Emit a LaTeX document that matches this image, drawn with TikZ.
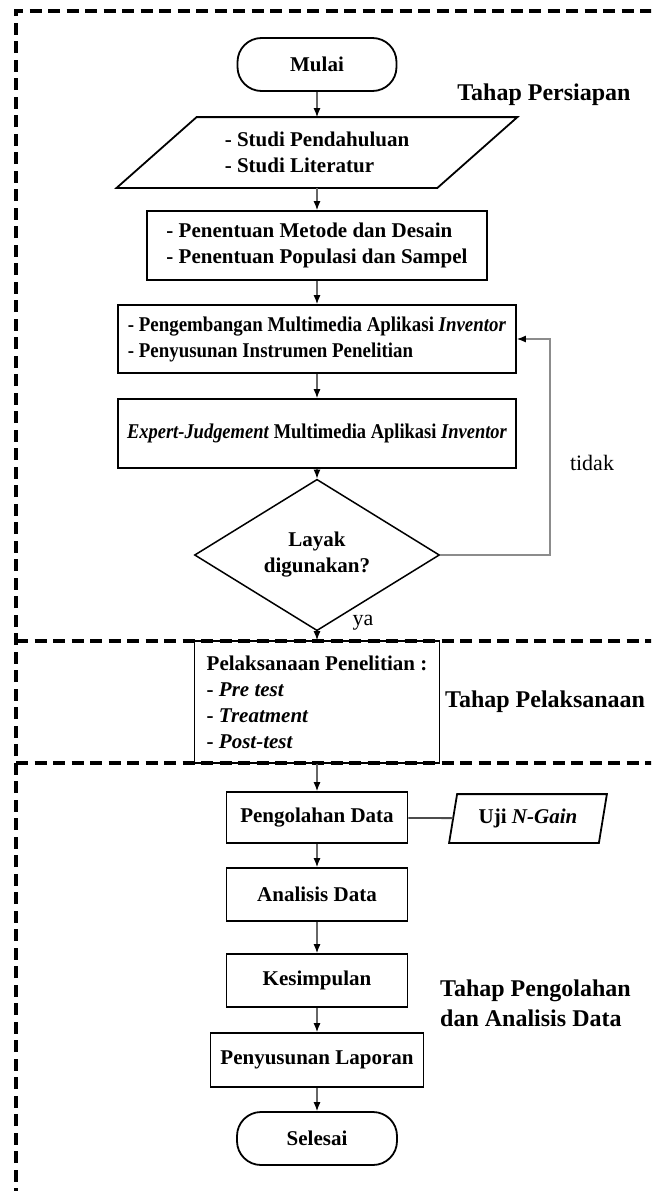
\documentclass[tikz,border=0pt]{standalone}
\usepackage{fontspec}
\setmainfont{Liberation Serif}
\usetikzlibrary{arrows.meta, shapes.geometric}
\newcommand{\narrow}[2][0.9]{\scalebox{#1}[1]{#2}}

\begin{document}
\begin{tikzpicture}[x=1pt, y=-1pt,
    box/.style={draw, line width=1.8pt, inner sep=0pt, align=left,
        font=\bfseries\fontsize{21}{26}\selectfont},
    term/.style={box, rounded corners=24pt, align=center},
    flow/.style={draw=black!60, line width=1.1pt, -{Latex[length=9pt, width=7pt, black]}},
    phase/.style={inner sep=0pt, align=left, font=\bfseries\fontsize{24}{30}\selectfont},
    note/.style={inner sep=0pt, font=\fontsize{22}{26}\selectfont},
    border/.style={line width=3.3pt, dash pattern=on 12pt off 6.5pt}]
    \path[use as bounding box, clip] (0,0) rectangle (651,1191);

    % dashed frames of the stages
    \draw[border] (16,1200) -- (16,11) -- (660,11);
    \draw[border] (16,641) -- (660,641);
    \draw[border] (16,763) -- (660,763);

    \node[term, minimum width=159pt, minimum height=53pt] (mulai) at (317,64.5) {Mulai};
    \node[box, draw=none, minimum width=319pt, minimum height=69pt] (studi) at (317,152.5)
        {- Studi Pendahuluan\\- Studi Literatur};
    \draw[line width=1.8pt] ([xshift=40pt]studi.north west) -- ([xshift=40pt]studi.north east)
        -- ([xshift=-40pt]studi.south east) -- ([xshift=-40pt]studi.south west) -- cycle;
    \node[box, minimum width=340pt, minimum height=69pt] (metode) at (317,245.5)
        {- Penentuan Metode dan Desain\\- Penentuan Populasi dan Sampel};
    \node[box, minimum width=398pt, minimum height=68pt] (kembang) at (317,339)
        {\narrow{- Pengembangan Multimedia Aplikasi \textit{Inventor}}\\
         \narrow{- Penyusunan Instrumen Penelitian}};
    \node[box, minimum width=398pt, minimum height=69pt] (expert) at (317,433.5)
        {\narrow[0.88]{\textit{Expert-Judgement} Multimedia Aplikasi \textit{Inventor}}};
    \node[box, diamond, line width=1.5pt, minimum width=245pt, minimum height=120pt, align=center] (layak) at (317,555)
        {Layak\\digunakan?};
    \node[box, minimum width=245pt, minimum height=122pt] (laksana) at (317,702)
        {Pelaksanaan Penelitian :\\- \textit{Pre test}\\- \textit{Treatment}\\- \textit{Post-test}};
    \node[box, minimum width=181pt, minimum height=51pt] (olah) at (317,817.5) {Pengolahan Data};
    \node[box, draw=none, minimum width=148pt, minimum height=47pt] (ngain) at (528,818.5)
        {Uji \textit{N-Gain}};
    \draw[line width=1.8pt] ([xshift=4pt]ngain.north west) -- ([xshift=4pt]ngain.north east)
        -- ([xshift=-4pt]ngain.south east) -- ([xshift=-4pt]ngain.south west) -- cycle;
    \node[box, minimum width=181pt, minimum height=53pt] (analisis) at (317,894.5) {Analisis Data};
    \node[box, minimum width=181pt, minimum height=53pt] (simpul) at (317,980.5) {Kesimpulan};
    \node[box, minimum width=213pt, minimum height=54pt] (lapor) at (317,1060) {Penyusunan Laporan};
    \node[term, minimum width=160pt, minimum height=53pt] (selesai) at (317,1138.5) {Selesai};

    \node[phase] (persiapan) at (544,95) {Tahap Persiapan};
    \node[phase, anchor=west] (pelaksanaan) at (445,702) {Tahap Pelaksanaan};
    \node[phase, anchor=west] (pengolahan) at (440,1003) {Tahap Pengolahan\\dan Analisis Data};

    \node[note] (tidak) at (592,463) {tidak};
    \node[note] (ya) at (363,623) {ya};
    \coordinate (balik) at (550,555);

    \draw[flow] (mulai) -- (studi);
    \draw[flow] (studi) -- (metode);
    \draw[flow] (metode) -- (kembang);
    \draw[flow] (kembang) -- (expert);
    \draw[flow] (expert) -- (layak);
    \draw[flow, draw=black!45] (layak.east) -- (balik) |- (kembang.east);
    \draw[flow] (layak) -- (laksana);
    \draw[flow] (laksana) -- (olah);
    \draw[line width=1.8pt, black!70] (olah) -- (ngain);
    \draw[flow] (olah) -- (analisis);
    \draw[flow] (analisis) -- (simpul);
    \draw[flow] (simpul) -- (lapor);
    \draw[flow] (lapor) -- (selesai);
\end{tikzpicture}
\end{document}
